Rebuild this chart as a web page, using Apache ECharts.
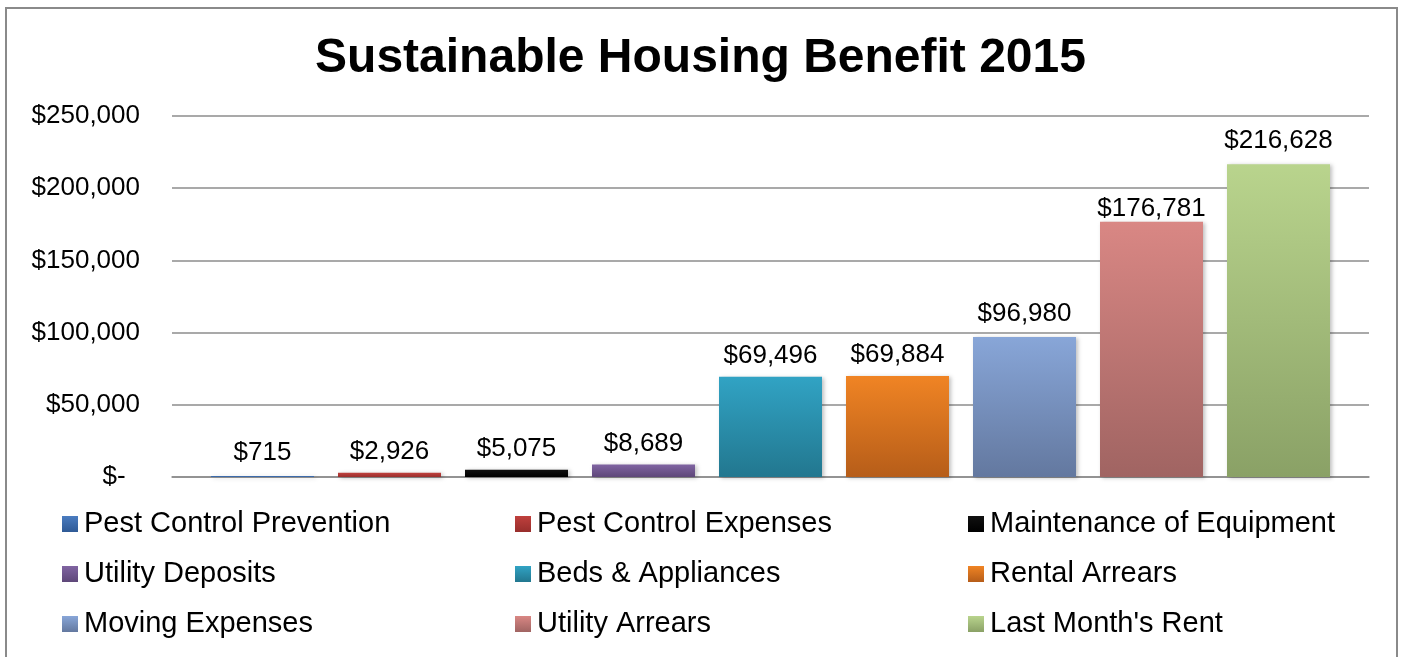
<!DOCTYPE html>
<html>
<head>
<meta charset="utf-8">
<script src="https://cdn.jsdelivr.net/npm/echarts@6/dist/echarts.min.js"></script>
<style>
html,body{margin:0;padding:0;background:#fff;}
#c{width:1401px;height:657px;}
</style>
</head>
<body>
<div id="c"></div>
<script>
const titleText = 'Sustainable Housing Benefit 2015';
const seriesNames = ['Pest Control Prevention','Pest Control Expenses','Maintenance of Equipment','Utility Deposits','Beds & Appliances','Rental Arrears','Moving Expenses','Utility Arrears',"Last Month's Rent"];
const seriesValues = [715, 2926, 5075, 8689, 69496, 69884, 96980, 176781, 216628];
const yTicks = [0, 50000, 100000, 150000, 200000, 250000];

const topColors = ['#4a7cc0','#c0403d','#111111','#8064a2','#31a3c4','#f08424','#88a6d8','#d98784','#b9d48d'];
const bottomColors = ['#2f5a96','#982e2c','#000000','#5e4779','#22778f','#b65d19','#63789f','#a06462','#8aa166'];
const labelDistances = [10, 8, 8, 8, 8, 8, 10, 0, 10];

const fmt = v => v === 0 ? '$-  ' : '$' + v.toLocaleString('en-US');

const chart = echarts.init(document.getElementById('c'));
const series = seriesNames.map((n, i) => ({
  name: n,
  type: 'bar',
  data: [seriesValues[i]],
  barWidth: 103,
  barGap: '23.3%',
  itemStyle: {
    color: new echarts.graphic.LinearGradient(0, 0, 0, 1, [
      {offset: 0, color: topColors[i]},
      {offset: 1, color: bottomColors[i]}
    ]),
    shadowBlur: 4,
    shadowColor: 'rgba(0,0,0,0.25)',
    shadowOffsetX: 2,
    shadowOffsetY: 1
  },
  label: {
    show: true,
    position: 'top',
    distance: labelDistances[i],
    formatter: p => fmt(p.value),
    fontFamily: 'Liberation Sans, Arial, sans-serif',
    fontSize: 26,
    color: '#000'
  }
}));

const cols = [[0,3,6],[1,4,7],[2,5,8]];
const colLeft = [57, 510, 963];
const legends = cols.map((idx, c) => ({
  orient: 'vertical',
  left: colLeft[c],
  top: 504,
  itemGap: 20,
  itemWidth: 16,
  itemHeight: 16,
  icon: 'rect',
  data: idx.map(i => seriesNames[i]),
  selectedMode: false,
  textStyle: {
    fontFamily: 'Liberation Sans, Arial, sans-serif',
    fontSize: 29,
    lineHeight: 30,
    color: '#000',
    padding: [0, 0, 0, 1]
  }
}));

chart.setOption({
  animation: false,
  backgroundColor: '#fff',
  title: {
    text: titleText,
    left: 'center',
    top: 30,
    textStyle: {
      fontFamily: 'Liberation Sans, Arial, sans-serif',
      fontSize: 48,
      fontWeight: 'bold',
      color: '#000'
    }
  },
  graphic: [{
    type: 'rect',
    shape: {x: 6, y: 8, width: 1391, height: 700},
    style: {fill: 'none', stroke: '#8a8a8a', lineWidth: 2},
    silent: true
  }],
  legend: legends,
  grid: {left: 172, right: 32, top: 116, bottom: 180},
  xAxis: {
    type: 'category',
    data: [''],
    axisTick: {show: false},
    axisLabel: {show: false},
    axisLine: {show: true, lineStyle: {color: '#8c8c8c', width: 1.5}}
  },
  yAxis: {
    type: 'value',
    min: yTicks[0],
    max: yTicks[yTicks.length - 1],
    interval: yTicks[1] - yTicks[0],
    axisLine: {show: false},
    axisTick: {show: false},
    splitLine: {lineStyle: {color: '#8c8c8c', width: 1.5}},
    axisLabel: {
      margin: 32,
      formatter: fmt,
      fontFamily: 'Liberation Sans, Arial, sans-serif',
      fontSize: 26,
      color: '#000'
    }
  },
  series: series
});
</script>
</body>
</html>
